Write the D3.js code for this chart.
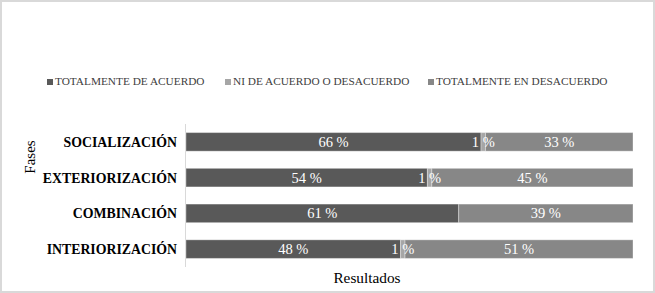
<!DOCTYPE html>
<html>
<head>
<meta charset="utf-8">
<script src="https://cdn.jsdelivr.net/npm/d3@7"></script>
<style>
  html, body { margin: 0; padding: 0; background: #fff; }
  svg { display: block; }
</style>
</head>
<body>
<svg id="chart" width="655" height="293"></svg>
<script>
// Phases, top to bottom
const fases = ["SOCIALIZACIÓN", "EXTERIORIZACIÓN", "COMBINACIÓN", "INTERIORIZACIÓN"];
// Percentages per phase
const totalmenteDeAcuerdo = [66, 54, 61, 48];
const niDeAcuerdo = [1, 1, 0, 1];
const totalmenteEnDesacuerdo = [33, 45, 39, 51];
const seriesNames = ["TOTALMENTE DE ACUERDO", "NI DE ACUERDO O DESACUERDO", "TOTALMENTE EN DESACUERDO"];
const seriesColors = ["#595959", "#a6a6a6", "#878787"];

const W = 655, H = 293;
const svg = d3.select("#chart");
const font = "'Liberation Serif', 'Times New Roman', serif";

// outer frame
svg.append("rect")
  .attr("x", 1).attr("y", 1).attr("width", W - 2).attr("height", H - 2)
  .attr("fill", "#fff").attr("stroke", "#d9d9d9").attr("stroke-width", 2);

const rows = fases.map((f, i) => ({
  fase: f,
  [seriesNames[0]]: totalmenteDeAcuerdo[i],
  [seriesNames[1]]: niDeAcuerdo[i],
  [seriesNames[2]]: totalmenteEnDesacuerdo[i]
}));
const stacked = d3.stack().keys(seriesNames)(rows);

const x = d3.scaleLinear().domain([0, 100]).range([186, 633]);
const y = d3.scaleBand().domain(fases).range([124, 267]).paddingInner(0.48).paddingOuter(0.24);
const color = d3.scaleOrdinal().domain(seriesNames).range(seriesColors);

// vertical category axis line
svg.append("line")
  .attr("x1", 185.5).attr("x2", 185.5).attr("y1", 124).attr("y2", 267)
  .attr("stroke", "#d9d9d9").attr("stroke-width", 1);

// bars
const layers = svg.append("g").selectAll("g").data(stacked).join("g")
  .attr("fill", d => color(d.key));
layers.selectAll("rect").data(d => d.filter(p => p[1] - p[0] > 0)).join("rect")
  .attr("x", d => x(d[0]))
  .attr("width", d => x(d[1]) - x(d[0]))
  .attr("y", d => y(d.data.fase))
  .attr("height", y.bandwidth())
  .attr("stroke", "rgba(255,255,255,0.35)")
  .attr("stroke-width", 1);

// value labels
const labels = svg.append("g");
stacked.forEach(layer => {
  layer.forEach(p => {
    const v = p[1] - p[0];
    if (v <= 0) return;
    labels.append("text")
      .attr("x", (x(p[0]) + x(p[1])) / 2)
      .attr("y", y(p.data.fase) + y.bandwidth() / 2 + 5)
      .attr("text-anchor", "middle")
      .attr("font-family", font)
      .attr("font-size", 14.5)
      .attr("fill", "#fff")
      .text(v + " %");
  });
});

// category labels
svg.append("g").selectAll("text").data(fases).join("text")
  .attr("x", 177)
  .attr("y", d => y(d) + y.bandwidth() / 2 + 5)
  .attr("text-anchor", "end")
  .attr("font-family", font)
  .attr("font-weight", "bold")
  .attr("font-size", 13.8)
  .attr("fill", "#000")
  .text(d => d);

// axis titles
svg.append("text")
  .attr("transform", "translate(35,157) rotate(-90)")
  .attr("text-anchor", "middle")
  .attr("font-family", font)
  .attr("font-size", 15)
  .attr("fill", "#000")
  .text("Fases");

svg.append("text")
  .attr("x", 367).attr("y", 283)
  .attr("text-anchor", "middle")
  .attr("font-family", font)
  .attr("font-size", 15.3)
  .attr("fill", "#000")
  .text("Resultados");

// legend
const legendX = [47, 225, 428];
const legend = svg.append("g").selectAll("g").data(seriesNames).join("g")
  .attr("transform", (d, i) => `translate(${legendX[i]},0)`);
legend.append("rect")
  .attr("x", 0).attr("y", 79).attr("width", 6).attr("height", 6)
  .attr("fill", d => color(d));
legend.append("text")
  .attr("x", 8).attr("y", 85)
  .attr("font-family", font)
  .attr("font-size", 11.3)
  .attr("fill", "#404040")
  .text(d => d);
</script>
</body>
</html>
